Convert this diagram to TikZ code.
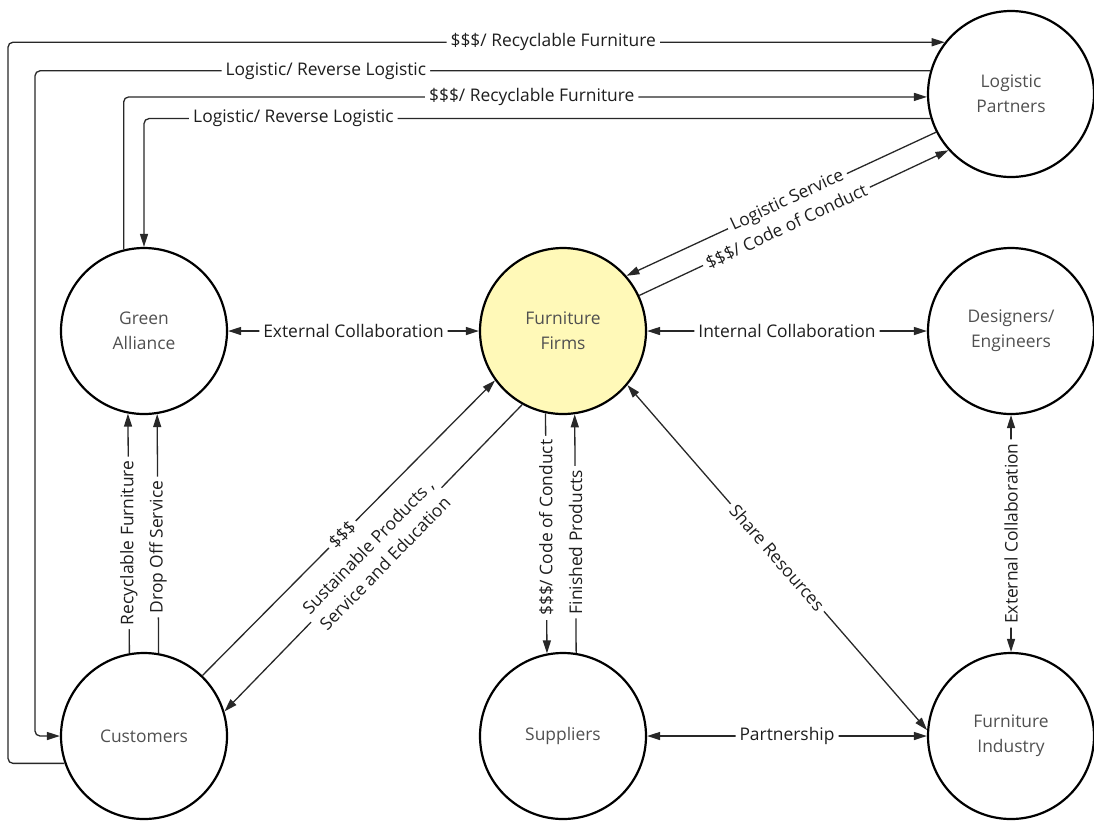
\documentclass[tikz,border=0pt]{standalone}
\usepackage{fontspec}
\setmainfont{Open Sans}
\usetikzlibrary{arrows.meta}

\definecolor{firmfill}{RGB}{255,249,184}
\definecolor{nodeink}{RGB}{80,80,80}
\definecolor{edgeink}{RGB}{30,30,30}
\definecolor{lineink}{RGB}{40,40,40}

\begin{document}
\begin{tikzpicture}[x=1pt,y=-1pt,
  actor/.style={circle, draw=black, line width=2.2pt, minimum size=166pt,
    inner sep=0pt, align=center, text=nodeink,
    font=\fontsize{17.4}{25}\selectfont},
  conn/.style={draw=lineink, line width=1.3pt, rounded corners=5pt},
  tip/.style={-{Triangle[length=13pt,width=8pt]}},
  dtip/.style={{Triangle[length=13pt,width=8pt]}-{Triangle[length=13pt,width=8pt]}},
  lbl/.style={fill=white, inner xsep=4pt, inner ysep=1pt, text=edgeink,
    align=center, font=\fontsize{17.4}{24}\selectfont},
]
\useasboundingbox (0,0) rectangle (1094,820);

% actors
\node[actor] (lp) at (1011,94)  {Logistic\\Partners};
\node[actor] (ga) at (144,331)  {Green\\Alliance};
\node[actor, fill=firmfill] (ff) at (563,331) {Furniture\\Firms};
\node[actor] (de) at (1011,331) {Designers/\\Engineers};
\node[actor] (cu) at (144,736)  {Customers};
\node[actor] (su) at (563,736)  {Suppliers};
\node[actor] (fi) at (1011,736) {Furniture\\Industry};

% vertical rails of the long orthogonal connectors
\coordinate (railA) at (8,0);
\coordinate (railB) at (35,0);

% long loops between customers / green alliance and logistic partners
\draw[conn, tip] (cu.199) -- (cu.199 -| railA) -- (railA |- lp.142)
  -- node[lbl, pos=0.582] {\$\$\$/ Recyclable Furniture} (lp.142);
\draw[conn, tip] (lp.164)
  -- node[lbl, pos=0.675] {Logistic/ Reverse Logistic} (lp.164 -| railB)
  -- (railB |- cu.west) -- (cu.west);
\draw[conn, tip] (ga.104) -- (ga.104 |- lp.182)
  -- node[lbl, pos=0.508] {\$\$\$/ Recyclable Furniture} (lp.182);
\draw[conn, tip] (lp.197)
  -- node[lbl, pos=0.81] {Logistic/ Reverse Logistic} (lp.197 -| ga.north)
  -- (ga.north);

% furniture firms <-> logistic partners
\draw[conn, tip] (lp.207.8) -- node[lbl, sloped, pos=0.48] {Logistic Service} (ff.41.2);
\draw[conn, tip] (ff.25.7) -- node[lbl, sloped, pos=0.476] {\$\$\$/ Code of Conduct} (lp.222.2);

% horizontal collaborations
\draw[conn, dtip] (ga.east) -- node[lbl] {External Collaboration} (ff.west);
\draw[conn, dtip] (ff.east) -- node[lbl] {Internal Collaboration} (de.west);
\draw[conn, dtip] (su.east) -- node[lbl] {Partnership} (fi.west);

% customers -> green alliance
\draw[conn, tip] (cu.100.3) -- node[lbl, rotate=90, pos=0.46] {Recyclable Furniture} (ga.259.7);
\draw[conn, tip] (cu.80.4) -- node[lbl, rotate=90, pos=0.444] {Drop Off Service} (ga.279.6);

% furniture firms <-> suppliers
\draw[conn, tip] (ff.258.3) -- node[lbl, rotate=90, pos=0.477] {\$\$\$/ Code of Conduct} (su.101.7);
\draw[conn, tip] (su.81.1) -- node[lbl, rotate=90, pos=0.464] {Finished Products} (ff.278.9);

% designers <-> industry
\draw[conn, dtip] (de.south) -- node[lbl, rotate=90] {External Collaboration} (fi.north);

% customers <-> furniture firms
\draw[conn, tip] (cu.46.9) -- node[lbl, sloped, pos=0.478] {\$\$\$} (ff.216.6);
\draw[conn, tip] (ff.241.7) -- node[lbl, sloped, pos=0.49] {Sustainable Products ,\\Service and Education} (cu.17.2);

% furniture firms <-> industry
\draw[conn, dtip] (ff.-40) -- node[lbl, sloped] {Share Resources} (fi.176);
\end{tikzpicture}
\end{document}
